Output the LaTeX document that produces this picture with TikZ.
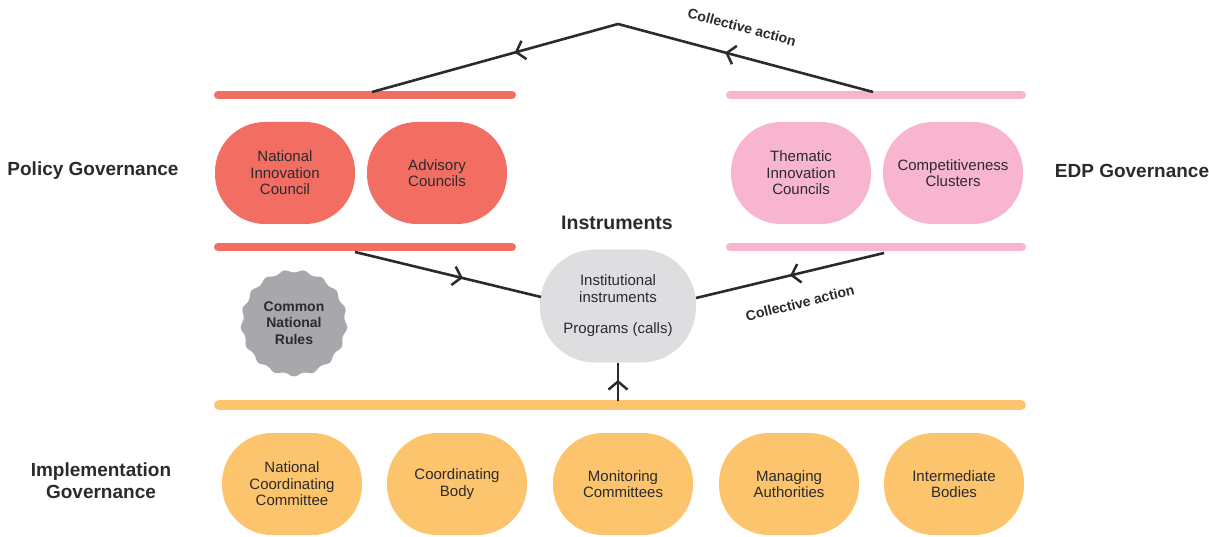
\documentclass[tikz,border=0pt]{standalone}
\usepackage{fontspec}
\setmainfont{Liberation Sans}
\usetikzlibrary{arrows.meta,decorations.markings,shapes.geometric}
\definecolor{ink}{HTML}{2B2A2C}
\definecolor{policyred}{HTML}{F26E63}
\definecolor{edppink}{HTML}{F7B5D0}
\definecolor{implorange}{HTML}{FDC46E}
\definecolor{instrgray}{HTML}{DEDEE0}
\definecolor{rulesgray}{HTML}{A8A7AC}
\newcommand\lblfont{\fontsize{15}{16.5}\selectfont}
\newcommand\headfont{\fontsize{19}{22}\selectfont\bfseries}
\tikzset{
  pill/.style={rounded corners=50pt, minimum width=140pt, minimum height=102pt,
    inner sep=0pt, align=center, font=\lblfont, text=ink},
  bar/.style={line width=8pt, line cap=round},
  flow/.style={line width=2.6pt, draw=ink, postaction=decorate,
    decoration={markings, mark=at position #1 with
      {\arrow{Straight Barb[length=8pt,width=19pt,line width=2.5pt]}}}},
  head/.style={font=\headfont, text=ink, align=center},
  tag/.style={font=\fontsize{14}{16}\selectfont\bfseries, text=ink},
}
\begin{document}
\begin{tikzpicture}[x=1pt,y=-1pt]
\useasboundingbox (0,0) rectangle (1209,537);

% governance bars
\draw[bar, policyred] (218,95) -- (512,95);
\draw[bar, edppink] (730,95) -- (1022,95);
\draw[bar, policyred] (218,247) -- (512,247);
\draw[bar, edppink] (730,247) -- (1022,247);
\draw[line width=10pt, line cap=round, implorange] (219,405) -- (1021,405);

% policy and EDP bodies
\node[pill, fill=policyred] (nic) at (285,173) {National\\Innovation\\Council};
\node[pill, fill=policyred] (adv) at (437,173) {Advisory\\Councils};
\node[pill, fill=edppink] (tic) at (801,173) {Thematic\\Innovation\\Councils};
\node[pill, fill=edppink] (cc) at (953,173) {Competitiveness\\Clusters};

% implementation bodies
\node[pill, fill=implorange] (ncc) at (292,484) {National\\Coordinating\\Committee};
\node[pill, fill=implorange] (cb) at (457,484) {Coordinating\\Body};
\node[pill, fill=implorange] (mc) at (623,484) {Monitoring\\Committees};
\node[pill, fill=implorange] (ma) at (789,484) {Managing\\Authorities};
\node[pill, fill=implorange] (ib) at (954,484) {Intermediate\\Bodies};

% instruments
\node[head, font=\fontsize{19.5}{22}\selectfont\bfseries] (insthead) at (617,223) {Instruments};
\node[rounded corners=55pt, minimum width=156pt, minimum height=113pt, inner sep=0pt,
  fill=instrgray, align=center, font=\lblfont, text=ink] (instr) at (618,306)
  {Institutional\\instruments\\[15pt]Programs (calls)};

% common rules seal
\node[star, star points=17, star point ratio=0.92, minimum size=100pt, inner sep=0pt,
  fill=rulesgray, rounded corners=3pt] (rules) at (294,323) {};
\node[font=\fontsize{14}{16.5}\selectfont\bfseries, text=ink, align=center] (rulestxt)
  at (rules.center) {Common\\National\\Rules};

% side headings
\node[head] (polgov) at (93,171) {Policy Governance};
\node[head] (edpgov) at (1132,171) {EDP Governance};
\node[head] (impgov) at (101,481) {Implementation\\Governance};

% connector end points
\coordinate (apex) at (618,24);
\coordinate (redtop) at (372,92);
\coordinate (pinktop) at (873,92);
\coordinate (redbot) at (355,252);
\coordinate (pinkbot) at (884,253);
\coordinate (instrW) at (541,297);
\coordinate (instrE) at (696,298);
\coordinate (orangemid) at (618,401);

% flows
\draw[flow=0.58] (pinktop) -- (apex);
\draw[flow=0.42] (apex) -- (redtop);
\draw[flow=0.58] (redbot) -- (instrW);
\draw[flow=0.5] (pinkbot) -- (instrE);
\draw[flow=0.55] (orangemid) -- (instr.south);

% flow labels
\node[tag, rotate=-15, inner sep=1pt] (catop) at (742,27) {Collective action};
\node[tag, rotate=14, inner sep=1pt] (cabot) at (800,303) {Collective action};
\end{tikzpicture}
\end{document}
